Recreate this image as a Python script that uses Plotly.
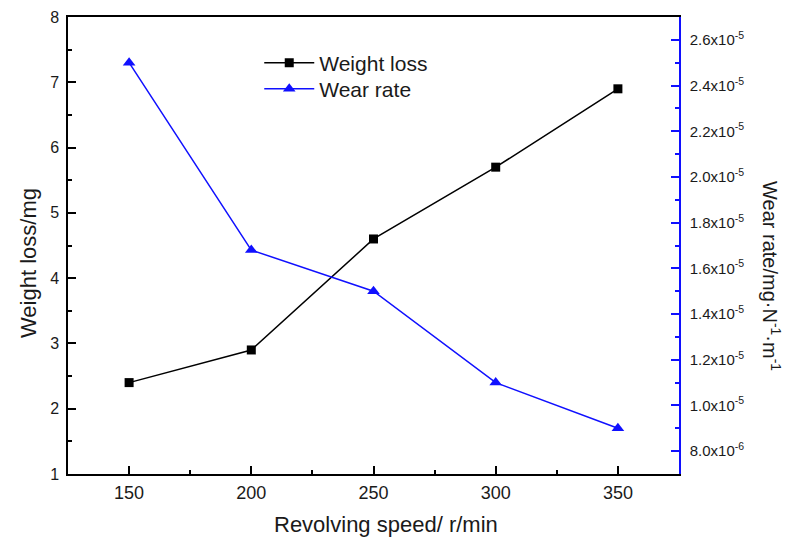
import plotly.graph_objects as go

speed = [150, 200, 250, 300, 350]
weight_loss = [2.4, 2.9, 4.6, 5.7, 6.9]
wear_rate = [2.5e-5, 1.68e-5, 1.5e-5, 1.1e-5, 9.0e-6]

left_ticks = [1, 2, 3, 4, 5, 6, 7, 8]
right_tickvals = [8e-6, 1.0e-5, 1.2e-5, 1.4e-5, 1.6e-5, 1.8e-5, 2.0e-5, 2.2e-5, 2.4e-5, 2.6e-5]
right_ticktext = ["8.0x10<sup>-6</sup>", "1.0x10<sup>-5</sup>", "1.2x10<sup>-5</sup>", "1.4x10<sup>-5</sup>",
                  "1.6x10<sup>-5</sup>", "1.8x10<sup>-5</sup>", "2.0x10<sup>-5</sup>", "2.2x10<sup>-5</sup>",
                  "2.4x10<sup>-5</sup>", "2.6x10<sup>-5</sup>"]
right_minor = [7e-6, 9e-6, 1.1e-5, 1.3e-5, 1.5e-5, 1.7e-5, 1.9e-5, 2.1e-5, 2.3e-5, 2.5e-5, 2.7e-5]

FONT = "Liberation Sans, Arial, sans-serif"
BLUE = "#1010ff"
TXT = "#1a1a1a"

fig = go.Figure()
fig.add_trace(go.Scatter(
    x=speed, y=weight_loss, name="Weight loss", mode="lines+markers", legend="legend",
    line=dict(color="black", width=1.5),
    marker=dict(symbol="square", size=9, color="black"),
))
fig.add_trace(go.Scatter(
    x=speed, y=wear_rate, name="Wear rate", mode="lines+markers", yaxis="y2", legend="legend2",
    line=dict(color=BLUE, width=1.5),
    marker=dict(symbol="triangle-up", size=11, color=BLUE),
))

leg_common = dict(xanchor="left", yanchor="middle", bgcolor="rgba(0,0,0,0)",
                  font=dict(size=21, family=FONT, color=TXT), itemwidth=50)

fig.update_layout(
    width=790, height=542,
    margin=dict(l=68, r=111, t=17, b=68, autoexpand=False),
    paper_bgcolor="white", plot_bgcolor="white",
    font=dict(family=FONT, color=TXT, size=16),
    showlegend=True,
    legend=dict(x=0.313, y=0.899, **leg_common),
    legend2=dict(x=0.313, y=0.8425, **leg_common),
    xaxis=dict(
        range=[125, 375], tickmode="linear", tick0=150, dtick=50,
        ticks="inside", ticklen=8, tickwidth=1.5, tickcolor="black",
        showline=True, linecolor="black", linewidth=1.5, mirror=True,
        showgrid=False, zeroline=False, automargin=False,
        minor=dict(ticks="inside", ticklen=4, tickwidth=1.5, tickcolor="black", dtick=25, tick0=125, showgrid=False),
        tickfont=dict(size=18, family=FONT),
        ticklabelstandoff=2,
    ),
    yaxis=dict(
        range=[1, 8], tickmode="array", tickvals=left_ticks,
        ticks="inside", ticklen=8, tickwidth=1.5, tickcolor="black",
        showline=True, linecolor="black", linewidth=1.5,
        showgrid=False, zeroline=False, automargin=False,
        minor=dict(ticks="inside", ticklen=4, tickwidth=1.5, tickcolor="black", dtick=0.5, tick0=1, showgrid=False),
        tickfont=dict(size=16, family=FONT),
        ticklabelstandoff=4,
    ),
    yaxis2=dict(
        overlaying="y", side="right", range=[7e-6, 2.7e-5],
        tickmode="array", tickvals=right_tickvals, ticktext=right_ticktext,
        ticks="inside", ticklen=8, tickwidth=1.5, tickcolor=BLUE,
        showline=True, linecolor=BLUE, linewidth=1.5,
        showgrid=False, zeroline=False, automargin=False,
        minor=dict(ticks="inside", ticklen=4, tickwidth=1.5, tickcolor=BLUE, tickvals=right_minor, showgrid=False),
        tickfont=dict(size=15, family=FONT),
        ticklabelstandoff=6,
    ),
    annotations=[
        dict(text="Revolving speed/ r/min", xref="paper", yref="paper",
             x=(386 - 68) / 611, y=(474 - 524) / 457, xanchor="center", yanchor="middle",
             showarrow=False, font=dict(size=22, family=FONT, color=TXT)),
        dict(text="Weight loss/mg", textangle=-90, xref="paper", yref="paper",
             x=(28 - 68) / 611, y=(474 - 263) / 457, xanchor="center", yanchor="middle",
             showarrow=False, font=dict(size=22, family=FONT, color=TXT)),
        dict(text="Wear rate/mg·N<sup>-1</sup>·m<sup>-1</sup>", textangle=90, xref="paper", yref="paper",
             x=(772 - 68) / 611, y=(474 - 276) / 457, xanchor="center", yanchor="middle",
             showarrow=False, font=dict(size=20, family=FONT, color=TXT)),
    ],
)

fig.write_html("out.html")
